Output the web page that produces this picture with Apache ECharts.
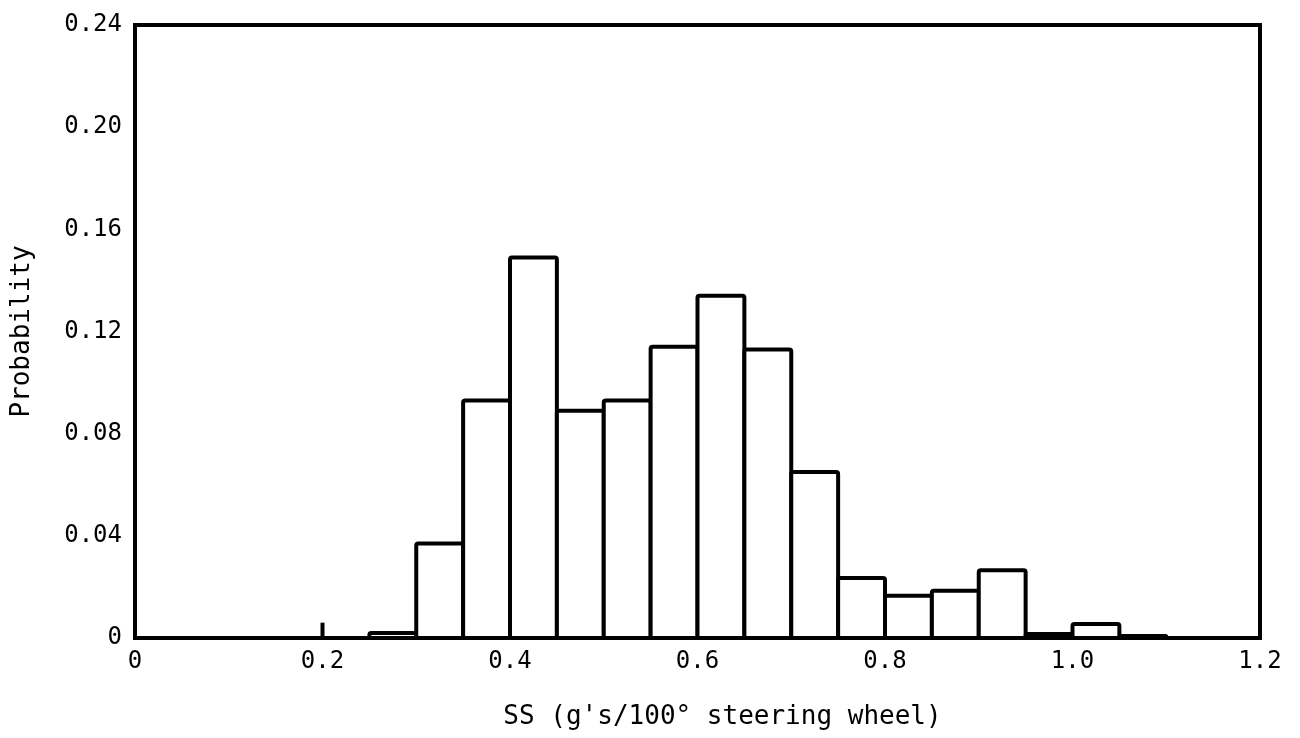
<!DOCTYPE html>
<html>
<head>
<meta charset="utf-8">
<script src="https://cdn.jsdelivr.net/npm/echarts@6/dist/echarts.min.js"></script>
<style>html,body{margin:0;padding:0;background:#fff;}#chart{width:1300px;height:738px;}</style>
</head>
<body>
<div id="chart"></div>
<script>
// Histogram bins (left edges) and probabilities
var binStarts = [0.25, 0.30, 0.35, 0.40, 0.45, 0.50, 0.55, 0.60, 0.65, 0.70, 0.75, 0.80, 0.85, 0.90, 0.95, 1.00, 1.05];
var probabilities = [0.002, 0.037, 0.093, 0.149, 0.089, 0.093, 0.114, 0.134, 0.113, 0.065, 0.0235, 0.0165, 0.0185, 0.0265, 0.0016, 0.0055, 0.0008];
var binWidth = 0.05;
// small spike at 0.2
var spikeX = [0.2];
var spikeY = [0.006];
var xTicks = [0, 0.2, 0.4, 0.6, 0.8, 1.0, 1.2];
var yTicks = [0, 0.04, 0.08, 0.12, 0.16, 0.20, 0.24];

var font = 'DejaVu Sans Mono';
var chart = echarts.init(document.getElementById('chart'));
var histData = binStarts.map(function (s, i) { return [s, s + binWidth, probabilities[i]]; });
var spikeData = spikeX.map(function (x, i) { return [x, spikeY[i]]; });

chart.setOption({
  animation: false,
  backgroundColor: '#fff',
  grid: { left: 135, right: 40, top: 25, bottom: 100, show: true, borderColor: '#000', borderWidth: 4 },
  xAxis: {
    type: 'value', min: 0, max: 1.2, interval: 0.2,
    axisLine: { show: true, lineStyle: { color: '#000', width: 4 } },
    axisTick: { show: false },
    splitLine: { show: false },
    axisLabel: { color: '#000', fontFamily: font, fontSize: 24, margin: 12,
      formatter: function (v) { return v === 0 ? '0' : v.toFixed(1); } },
    name: "SS (g's/100\u00b0 steering wheel)",
    nameLocation: 'middle', nameGap: 66,
    nameTextStyle: { color: '#000', fontFamily: font, fontSize: 26, padding: [0, 0, 0, 50] }
  },
  yAxis: {
    type: 'value', min: 0, max: 0.24, interval: 0.04,
    axisLine: { show: true, lineStyle: { color: '#000', width: 4 } },
    axisTick: { show: false },
    splitLine: { show: false },
    axisLabel: { color: '#000', fontFamily: font, fontSize: 24, margin: 13,
      formatter: function (v) { return Math.abs(v) < 1e-9 ? '0' : v.toFixed(2); } },
    name: 'Probability',
    nameLocation: 'middle', nameGap: 100,
    nameTextStyle: { color: '#000', fontFamily: font, fontSize: 26 }
  },
  series: [{
    type: 'custom',
    data: histData,
    encode: { x: [0, 1], y: 2 },
    renderItem: function (params, api) {
      var p0 = api.coord([api.value(0), api.value(2)]);
      var p1 = api.coord([api.value(1), 0]);
      return {
        type: 'rect',
        shape: { x: p0[0], y: p0[1], width: p1[0] - p0[0], height: p1[1] - p0[1], r: 2 },
        style: { fill: '#fff', stroke: '#000', lineWidth: 4 }
      };
    }
  }, {
    type: 'custom',
    data: spikeData,
    encode: { x: 0, y: 1 },
    renderItem: function (params, api) {
      var a = api.coord([api.value(0), api.value(1)]);
      var b = api.coord([api.value(0), 0]);
      return { type: 'line', shape: { x1: a[0], y1: a[1], x2: b[0], y2: b[1] }, style: { stroke: '#000', lineWidth: 4 } };
    }
  }]
});
</script>
</body>
</html>
